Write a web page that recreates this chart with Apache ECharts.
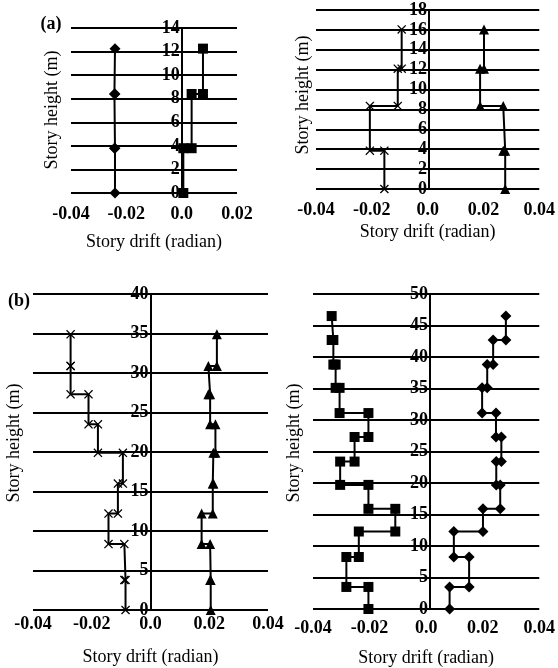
<!DOCTYPE html>
<html><head><meta charset="utf-8">
<script src="https://cdn.jsdelivr.net/npm/echarts@6/dist/echarts.min.js"></script>
<style>html,body{margin:0;padding:0;background:#fff}#c{width:558px;height:668px}</style>
</head><body><div id="c"></div>
<script>
// ---- data ----
var xTicks = [-0.04, -0.02, 0, 0.02, 0.04];
var xTickLabels = ['-0.04', '-0.02', '0.0', '0.02', '0.04'];

// panel (a) left
var floorsA1 = [0, 3.8, 8.4, 12.25];
var diamondA1 = [-0.0241, -0.0243, -0.0241];
var squareA1 = [0.0006, 0.0036, 0.0077];

// panel (a) right
var floorsA2 = [0, 3.85, 8.35, 12.1, 16.05];
var crossA2 = [-0.0155, -0.0207, -0.0107, -0.0093];
var triangleA2 = [0.0278, 0.0271, 0.0188, 0.0202];

// panel (b) left
var floorsB1 = [0, 3.8, 8.35, 12.2, 16.0, 19.9, 23.5, 27.3, 30.9, 34.9];
var crossB1 = [-0.0085, -0.0089, -0.0143, -0.0111, -0.0094, -0.0179, -0.0211, -0.0272, -0.0272];
var triangleB1 = [0.0205, 0.0203, 0.0174, 0.0212, 0.0214, 0.0221, 0.0203, 0.0197, 0.0226];

// panel (b) right
var floorsB2 = [0, 3.5, 8.25, 12.3, 15.9, 19.7, 23.4, 27.3, 31.1, 35.1, 38.8, 42.7, 46.5];
var squareB2 = [-0.0204, -0.0282, -0.0238, -0.0109, -0.0204, -0.0304, -0.0253, -0.0204, -0.0306, -0.0320, -0.0328, -0.0334];
var diamondB2 = [0.0083, 0.0152, 0.0098, 0.0201, 0.0262, 0.0248, 0.0266, 0.0247, 0.0198, 0.0216, 0.0237, 0.0282];

var xName = 'Story drift (radian)';
var yName = 'Story height (m)';

// ---- build ----
function steps(floors, drifts) {
  var pts = [];
  for (var i = 0; i < drifts.length; i++) {
    pts.push([drifts[i], floors[i]]);
    pts.push([drifts[i], floors[i + 1]]);
  }
  return pts;
}
function xFmt(v) {
  var best = 0, bd = 1e9;
  for (var i = 0; i < xTicks.length; i++) { var d = Math.abs(xTicks[i] - v); if (d < bd) { bd = d; best = i; } }
  return xTickLabels[best];
}
var FONT = 'Liberation Serif';
var crossPath = 'path://M1,0 L5,4 L9,0 L10,1 L6,5 L10,9 L9,10 L5,6 L1,10 L0,9 L4,5 L0,1 Z';

var grids = [
  {left: 71, top: 28, width: 166, height: 165},
  {left: 316, top: 10, width: 226, height: 179},
  {left: 33, top: 294, width: 235, height: 316},
  {left: 313, top: 294, width: 234, height: 315}
];
var xMin = -0.04;
var xMax = [0.02, 0.04, 0.04, 0.04];
var yMax = [14, 18, 40, 50];
var yInt = [2, 2, 5, 5];
var labelMargins = [12, 12, 5, 10];
var nameGaps = [40, 34, 38, 40];

var xAxes = [], yAxes = [];
for (var i = 0; i < 4; i++) {
  // place the y axis (line + labels) at drift = 0
  var zeroOff = grids[i].width * (0 - xMin) / (xMax[i] - xMin);
  xAxes.push({
    type: 'value', gridIndex: i, min: xMin, max: xMax[i], interval: 0.02,
    axisLine: {show: false}, axisTick: {show: false}, splitLine: {show: false},
    axisLabel: {formatter: xFmt, color: '#000', fontFamily: FONT, fontSize: 18, fontWeight: 'bold', margin: labelMargins[i]},
    name: xName, nameLocation: 'middle', nameGap: nameGaps[i],
    nameTextStyle: {color: '#000', fontFamily: FONT, fontSize: 18}
  });
  yAxes.push({
    type: 'value', gridIndex: i, min: 0, max: yMax[i], interval: yInt[i],
    position: 'left', offset: -zeroOff,
    axisLine: {show: true, onZero: false, lineStyle: {color: '#000', width: 2}},
    axisTick: {show: false},
    splitLine: {show: true, lineStyle: {color: '#000', width: 2}},
    axisLabel: {color: '#000', fontFamily: FONT, fontSize: 18, fontWeight: 'bold', margin: 2}
  });
}

function ser(idx, floors, drifts, symbol, size) {
  return {
    type: 'line', xAxisIndex: idx, yAxisIndex: idx, data: steps(floors, drifts),
    symbol: symbol, symbolSize: size, showSymbol: true, showAllSymbol: true,
    lineStyle: {color: '#000', width: 2}, itemStyle: {color: '#000'}, z: 5, animation: false
  };
}

var series = [
  ser(0, floorsA1, diamondA1, 'diamond', 11),
  ser(0, floorsA1, squareA1, 'rect', 10),
  ser(1, floorsA2, crossA2, crossPath, 9),
  ser(1, floorsA2, triangleA2, 'triangle', 10),
  ser(2, floorsB1, crossB1, crossPath, 9),
  ser(2, floorsB1, triangleB1, 'triangle', 10),
  ser(3, floorsB2, squareB2, 'rect', 10),
  ser(3, floorsB2, diamondB2, 'diamond', 11)
];

function vtext(x, y, t) {
  return {type: 'text', x: x, y: y, rotation: Math.PI / 2,
    style: {text: t, fill: '#000', font: '18px "Liberation Serif"', textAlign: 'center', textVerticalAlign: 'middle'}};
}
var graphic = [
  {type: 'text', x: 51, y: 24, style: {text: '(a)', fill: '#000', font: 'bold 18px "Liberation Serif"', textAlign: 'center', textVerticalAlign: 'middle'}},
  {type: 'text', x: 19, y: 301, style: {text: '(b)', fill: '#000', font: 'bold 18px "Liberation Serif"', textAlign: 'center', textVerticalAlign: 'middle'}},
  vtext(52, 110, yName),
  vtext(303, 95, yName),
  vtext(14, 443, yName),
  vtext(294, 443, yName)
];

var chart = echarts.init(document.getElementById('c'), null, {renderer: 'canvas'});
chart.setOption({
  animation: false,
  grid: grids, xAxis: xAxes, yAxis: yAxes, series: series, graphic: graphic
});
</script>
</body></html>
